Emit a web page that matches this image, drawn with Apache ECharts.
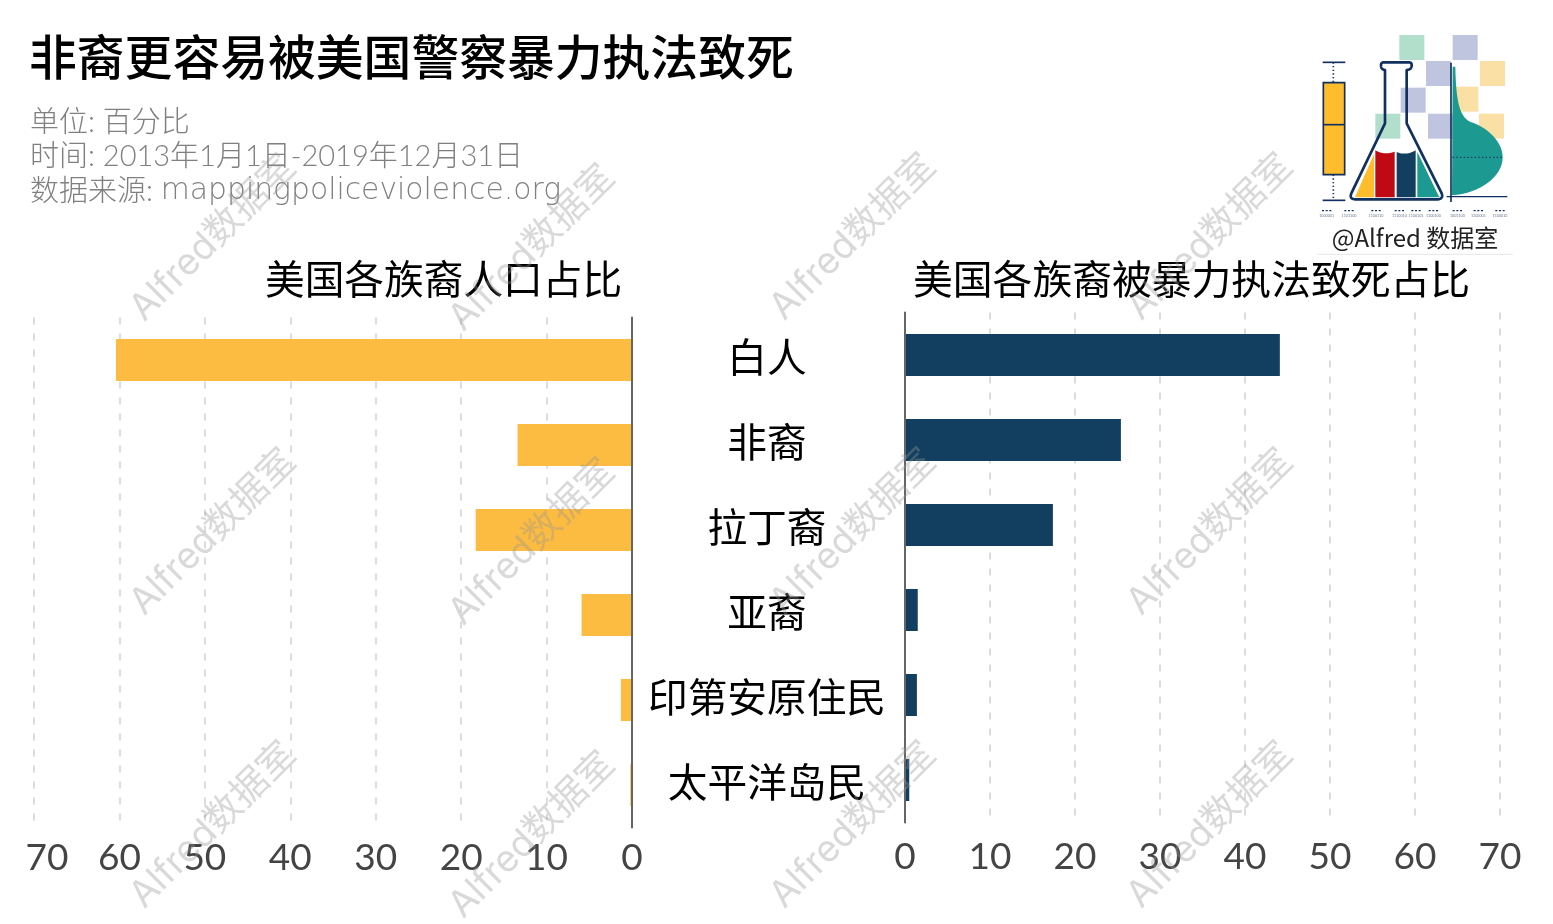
<!DOCTYPE html>
<html><head><meta charset="utf-8">
<style>html,body{margin:0;padding:0;background:#fff}#c{width:1553px;height:924px}</style>
<script src="https://cdn.jsdelivr.net/npm/echarts@6/dist/echarts.min.js"></script>
</head><body><div id="c"></div>
<script>
const categories = ['白人','非裔','拉丁裔','亚裔','印第安原住民','太平洋岛民'];
const populationShare = [60.4, 13.4, 18.3, 5.9, 1.3, 0.2];
const deathShare = [44.1, 25.4, 17.4, 1.5, 1.4, 0.5];
const mainTitle = '非裔更容易被美国警察暴力执法致死';
const subUnit = '单位: 百分比';
const subTime = '时间: 2013年1月1日-2019年12月31日';
const subSourceLabel = '数据来源: ';
const subSourceSite = 'mappingpoliceviolence.org';
const leftTitle = '美国各族裔人口占比';
const rightTitle = '美国各族裔被暴力执法致死占比';
const watermark = 'Alfred数据室';
const logoCaption = '@Alfred 数据室';
const logoBits = ['1000001','1101100','1100110','1110010','1100101','1100100','1001100','1100001','1100010'];

const CJK = '"Noto Sans CJK SC"';
const NUM = 'Lato, "Noto Sans", sans-serif';
const GOLD = '#fcbc41', NAVY = '#123f5f', LINE = '#12305f';

const wmPos = [[213,238],[532,248],[853,237],[1210,237],[213,532],[532,542],[853,532],[1210,532],[213,825],[532,835],[853,825],[1210,825]];
const wmEls = wmPos.map(p => ({
  type:'text', x:p[0], y:p[1], rotation:45*Math.PI/180, z:50, silent:true,
  style:{text:watermark, font:'37px Inter, '+CJK, fill:'rgba(150,150,150,0.36)', textAlign:'center', textVerticalAlign:'middle'}
}));

// Logo artwork helpers (decoration only)
function bez(p0,p1,p2,p3){const o=[];for(let i=1;i<=16;i++){const t=i/16,u=1-t;
  o.push([u*u*u*p0[0]+3*u*u*t*p1[0]+3*u*t*t*p2[0]+t*t*t*p3[0],u*u*u*p0[1]+3*u*u*t*p1[1]+3*u*t*t*p2[1]+t*t*t*p3[1]]);}return o;}
const flaskOutline = [[255,310],[255,150],...bez([255,150],[243,148],[243,140],[243,135]),...bez([243,135],[243,129],[247,127],[252,127]),[325,127],
  ...bez([325,127],[332,127],[335,129],[335,135]),...bez([335,135],[335,145],[330,149],[320,150]),[320,310],[424,518],...bez([424,518],[430,530],[425,538],[412,538]),
  [168,538],...bez([168,538],[152,538],[149,530],[155,518])];
const density = [[458,140],[466,140],...bez([466,140],[468,250],[480,290],[510,305]),...bez([510,305],[570,325],[608,370],[608,412]),...bez([608,412],[608,470],[540,520],[456,526])];
const redTop = [[226,391],...bez([226,391],[245,402],[265,402],[284,395])];
const navyTop = [[290,396],...bez([290,396],[308,404],[328,402],[347,391])];

const squares = [
 [298,45,'#b2dfcb'],[458,45,'#c0c5df'],[378,123,'#c0c5df'],[540,123,'#fae0a5'],
 [302,203,'#c0c5df'],[460,200,'#fae0a5'],[226,281,'#b2dfcb'],[384,281,'#c0c5df'],[537,281,'#fae0a5']
];
const bitX = [80,147,228,298,348,400,472,535,600];
const logoChildren = [
 ...squares.map(s=>({type:'rect',shape:{x:s[0],y:s[1],width:75,height:75},style:{fill:s[2]}})),
 {type:'line',shape:{x1:68,y1:127,x2:136,y2:127},style:{stroke:LINE,lineWidth:5}},
 {type:'line',shape:{x1:100,y1:127,x2:100,y2:188},style:{stroke:LINE,lineWidth:5,lineDash:[4,7]}},
 {type:'rect',shape:{x:70,y:188,width:64,height:276},style:{fill:'#fdbd2c',stroke:LINE,lineWidth:5}},
 {type:'line',shape:{x1:70,y1:314,x2:134,y2:314},style:{stroke:LINE,lineWidth:5}},
 {type:'line',shape:{x1:100,y1:464,x2:100,y2:541},style:{stroke:LINE,lineWidth:5,lineDash:[4,7]}},
 {type:'line',shape:{x1:68,y1:541,x2:136,y2:541},style:{stroke:LINE,lineWidth:5}},
 {type:'polygon',shape:{points:[[165,532],[222,402],[222,532]]},style:{fill:'#fdbd2c'}},
 {type:'polygon',shape:{points:[...redTop,[284,532],[226,532]]},style:{fill:'#bf0a14'}},
 {type:'polygon',shape:{points:[...navyTop,[347,532],[290,532]]},style:{fill:NAVY}},
 {type:'polygon',shape:{points:[[352,396],[418,532],[352,532]]},style:{fill:'#1c9a91'}},
 {type:'polygon',shape:{points:flaskOutline},style:{fill:'none',stroke:LINE,lineWidth:8,lineJoin:'round'}},
 {type:'polygon',shape:{points:density},style:{fill:'#1c9a91'}},
 {type:'line',shape:{x1:458,y1:412,x2:606,y2:412},style:{stroke:LINE,lineWidth:4,lineDash:[4,7]}},
 {type:'line',shape:{x1:453,y1:128,x2:453,y2:546},style:{stroke:LINE,lineWidth:5}},
 {type:'line',shape:{x1:440,y1:530,x2:622,y2:530},style:{stroke:LINE,lineWidth:4}},
 ...logoBits.map((b,i)=>({type:'line',shape:{x1:bitX[i]-14,y1:572,x2:bitX[i]+14,y2:572},style:{stroke:LINE,lineWidth:4,lineDash:[6,5]}})),
 ...logoBits.map((b,i)=>({type:'text',x:bitX[i],y:588,style:{text:b,font:'11px Lato',fill:'#6b7590',textAlign:'center',textVerticalAlign:'middle'}})),
 {type:'line',shape:{x1:50,y1:703,x2:638,y2:703},style:{stroke:'#e6e6e6',lineWidth:3}}
];

const numStyle = {fontFamily:NUM,fontSize:37,color:'#444'};
const xCommon = {
  type:'value', min:0, max:70, interval:10,
  axisLine:{show:false}, axisTick:{show:false},
  splitLine:{show:true,lineStyle:{color:'#dcdcdc',type:[7,9],width:2}},
  axisLabel:{...numStyle}
};
const yLine = {show:true,onZero:false,lineStyle:{color:'#666',width:2}};
const subStyle = {fontFamily:'Lato, '+CJK,fontSize:29,fontWeight:300,color:'#808080',lineHeight:34.5};

const chart = echarts.init(document.getElementById('c'),null,{renderer:'canvas'});
chart.setOption({
  animation:false, backgroundColor:'#fff',
  title:[
    {text:mainTitle,left:29,top:33,padding:0,textStyle:{fontFamily:CJK,fontSize:47.8,fontWeight:500,color:'#000'}},
    {text:subUnit+'\n'+subTime+'\n{a|'+subSourceLabel+'}{b|'+subSourceSite+'}',left:30,top:105,padding:0,
     textStyle:{...subStyle,rich:{a:{...subStyle},b:{...subStyle,fontFamily:'"DejaVu Sans"',fontSize:29.8,fontWeight:200}}}},
    {text:leftTitle,left:265,top:259,padding:0,textStyle:{fontFamily:CJK,fontSize:39.7,fontWeight:'normal',color:'#000'}},
    {text:rightTitle,left:913,top:259,padding:0,textStyle:{fontFamily:CJK,fontSize:39.8,fontWeight:'normal',color:'#000'}}
  ],
  grid:[
    {left:34,width:598,top:317.5,height:510},
    {left:905,width:595,top:312.5,height:510}
  ],
  xAxis:[
    {...xCommon,gridIndex:0,inverse:true,axisLabel:{...numStyle,margin:12,
      formatter:v=>v===70?'{s|'+v+'}':''+v,rich:{s:{...numStyle,padding:[0,0,0,26]}}}},
    {...xCommon,gridIndex:1,axisLabel:{...numStyle,margin:16}}
  ],
  yAxis:[
    {type:'category',gridIndex:0,data:categories,inverse:true,position:'right',
     axisLine:yLine,axisTick:{show:false},splitLine:{show:false},z:5,
     axisLabel:{margin:135,align:'center',fontFamily:CJK,fontSize:39.7,color:'#000',verticalAlign:'bottom',lineHeight:6}},
    {type:'category',gridIndex:1,data:categories,inverse:true,position:'left',
     axisLine:yLine,axisTick:{show:false},splitLine:{show:false},axisLabel:{show:false},z:5}
  ],
  series:[
    {type:'bar',xAxisIndex:0,yAxisIndex:0,data:populationShare,barWidth:42,itemStyle:{color:GOLD}},
    {type:'bar',xAxisIndex:1,yAxisIndex:1,data:deathShare,barWidth:42,itemStyle:{color:NAVY}}
  ],
  graphic:{elements:[
    {type:'group',x:1300,y:20,scaleX:1/3,scaleY:1/3,silent:true,z:10,children:logoChildren},
    {type:'text',x:1415,y:238,z:11,silent:true,style:{text:logoCaption,font:'24px '+CJK,fill:'#222',textAlign:'center',textVerticalAlign:'middle'}},
    ...wmEls
  ]}
});
</script></body></html>
